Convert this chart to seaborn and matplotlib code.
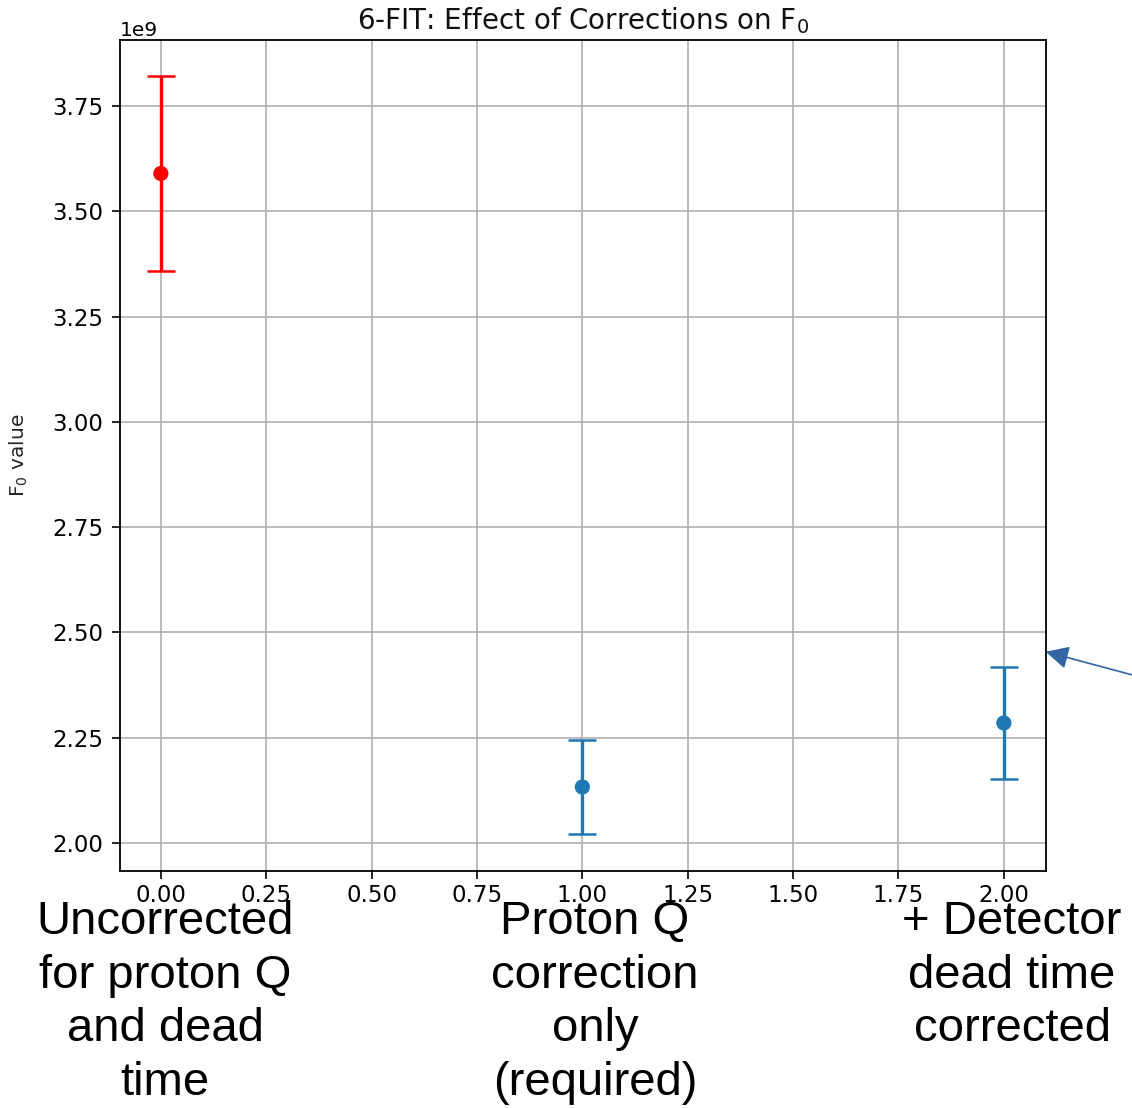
import matplotlib
matplotlib.use("Agg")
import matplotlib.pyplot as plt
import seaborn as sns
import pandas as pd

# Data
positions = [0, 1, 2]
f0_values = [3.59e9, 2.133e9, 2.285e9]
f0_errors = [0.232e9, 0.112e9, 0.133e9]
point_colors = ["red", "#1f77b4", "#1f77b4"]
x_ticks = [0.00, 0.25, 0.50, 0.75, 1.00, 1.25, 1.50, 1.75, 2.00]
y_ticks = [2.00e9, 2.25e9, 2.50e9, 2.75e9, 3.00e9, 3.25e9, 3.50e9, 3.75e9]
group_labels = [
    "Uncorrected\nfor proton Q\nand dead\ntime",
    "Proton Q\ncorrection\nonly\n(required)",
    "+ Detector\ndead time\ncorrected",
]

sns.set_style("ticks")
plt.rcParams["font.family"] = ["DejaVu Sans"]

W, H = 1132, 1108
fig = plt.figure(figsize=(W / 100, H / 100), dpi=100)
ax = fig.add_axes([120 / W, 1 - 871 / H, (1046 - 120) / W, (871 - 40) / H])

df = pd.DataFrame({"x": positions, "F0": f0_values, "err": f0_errors,
                   "c": point_colors})

for _, r in df.iterrows():
    ax.errorbar(r["x"], r["F0"], yerr=r["err"], fmt="none", ecolor=r["c"],
                elinewidth=2.4, capsize=10, capthick=1.8, zorder=3)
sns.scatterplot(data=df, x="x", y="F0", hue="c", palette={c: c for c in set(point_colors)},
                s=120, edgecolor="none", legend=False, ax=ax, zorder=4)

ax.set_xlim(-0.097, 2.10)
ax.set_ylim(1.9335e9, 3.907e9)
ax.set_xticks(x_ticks)
ax.set_yticks(y_ticks)
ax.grid(True, color="#b0b0b0", linewidth=1.2)
ax.set_axisbelow(True)
ax.tick_params(labelsize=16.5, length=6, width=1.2, colors="black")
ax.tick_params(axis="y", pad=6)
ax.tick_params(axis="x", pad=3)
ax.yaxis.get_offset_text().set_fontsize(14.5)
for s in ax.spines.values():
    s.set_visible(True)
    s.set_linewidth(1.3)
    s.set_color("black")
ax.set_xlabel("")
ax.set_ylabel("F$_0$ value", fontsize=14.5)
ax.yaxis.set_label_coords(-0.097, 0.5)
ax.set_title("6-FIT: Effect of Corrections on F$_0$", fontsize=20, pad=8,
             color="#111111")

# Big labels under the chart
label_x = [165, 595, 1012]
for lx, txt in zip(label_x, group_labels):
    fig.text(lx / W, 1 - 900 / H, txt, ha="center", va="top",
             fontsize=34, family=["Liberation Sans", "DejaVu Sans"],
             linespacing=1.285, color="black")

# Arrow pointing at the axes edge
fig.add_artist(matplotlib.patches.FancyArrowPatch(
    (1140 / W, 1 - 677 / H), (1043 / W, 1 - 651 / H),
    transform=fig.transFigure, arrowstyle="-|>,head_length=14,head_width=7",
    color="#3465a4", linewidth=1.2, mutation_scale=1))

fig.savefig("out.png", dpi=100, facecolor="white")
